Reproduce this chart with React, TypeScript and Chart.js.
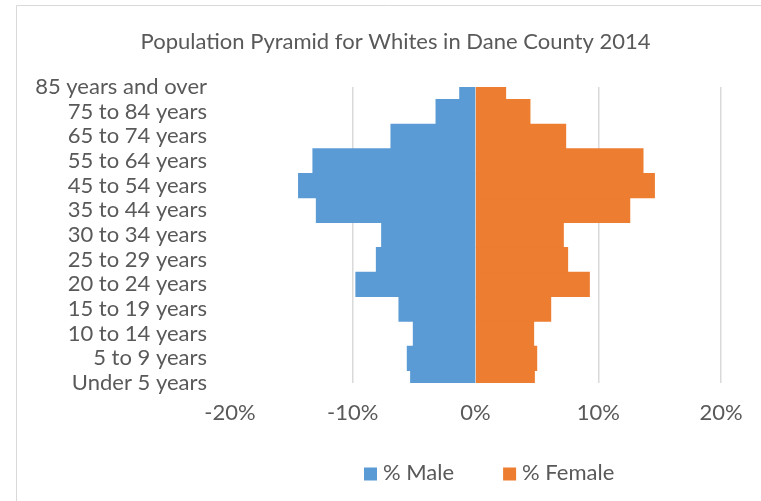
import React, { useEffect, useRef } from "react";
import { Chart, registerables } from "chart.js";

Chart.register(...registerables);

const ageGroups = [
  "Under 5 years",
  "5 to 9 years",
  "10 to 14 years",
  "15 to 19 years",
  "20 to 24 years",
  "25 to 29 years",
  "30 to 34 years",
  "35 to 44 years",
  "45 to 54 years",
  "55 to 64 years",
  "65 to 74 years",
  "75 to 84 years",
  "85 years and over",
];
const malePercent = [5.3, 5.57, 5.08, 6.25, 9.76, 8.09, 7.66, 12.98, 14.43, 13.26, 6.9, 3.23, 1.3];
const femalePercent = [4.81, 5.0, 4.75, 6.14, 9.29, 7.52, 7.17, 12.58, 14.59, 13.66, 7.36, 4.45, 2.47];
const xMin = -20;
const xMax = 20;
const xStep = 10;
const titleText = "Population Pyramid for Whites in Dane County 2014";
const maleLabel = "% Male";
const femaleLabel = "% Female";

const FONT = "Lato";
const TEXT = "#595959";
const FS = 22;

const framePlugin = {
  id: "frame",
  beforeDraw(chart: any) {
    const { ctx, width, height } = chart;
    ctx.save();
    ctx.fillStyle = "#ffffff";
    ctx.fillRect(0, 0, width, height);
    ctx.strokeStyle = "#d9d9d9";
    ctx.lineWidth = 1;
    ctx.beginPath();
    ctx.moveTo(16.5, height);
    ctx.lineTo(16.5, 5.5);
    ctx.lineTo(width, 5.5);
    ctx.stroke();
    ctx.restore();
  },
};

const legendPlugin = {
  id: "bottomLegend",
  afterDraw(chart: any) {
    const ctx = chart.ctx;
    ctx.save();
    ctx.font = `${FS}px ${FONT}`;
    ctx.textBaseline = "middle";
    ctx.textAlign = "left";
    let x = 364;
    const y = 474;
    chart.data.datasets.forEach((ds: any) => {
      ctx.fillStyle = ds.backgroundColor;
      ctx.fillRect(x, y - 6.5, 13, 13);
      x += 13 + 6;
      ctx.fillStyle = TEXT;
      ctx.fillText(ds.label, x, y - 1);
      x += ctx.measureText(ds.label).width + 49;
    });
    ctx.restore();
  },
};

export default function App() {
  const ref = useRef<HTMLCanvasElement | null>(null);
  useEffect(() => {
    if (!ref.current) return;
    const chart = new Chart(ref.current, {
      type: "bar",
      data: {
        labels: ageGroups,
        datasets: [
          {
            label: maleLabel,
            data: malePercent.map((v) => -v),
            backgroundColor: "#5B9BD5",
            barPercentage: 1,
            categoryPercentage: 1,
          },
          {
            label: femaleLabel,
            data: femalePercent,
            backgroundColor: "#ED7D31",
            barPercentage: 1,
            categoryPercentage: 1,
          },
        ],
      },
      options: {
        indexAxis: "y",
        responsive: false,
        animation: false,
        layout: { padding: { left: 0, right: -30, top: 0, bottom: 0 } },
        scales: {
          x: {
            type: "linear",
            min: xMin,
            max: xMax,
            stacked: true,
            ticks: {
              stepSize: xStep,
              callback: (v: any) => v + "%",
              color: TEXT,
              font: { family: FONT, size: FS },
              padding: 17,
            },
            grid: {
              drawTicks: false,
              color: (ctx: any) => (ctx.tick && ctx.tick.value === xMin ? "rgba(0,0,0,0)" : "#d9d9d9"),
              lineWidth: 1.5,
            },
            border: { display: false },
            afterFit: (s: any) => {
              s.height = 118;
            },
          },
          y: {
            type: "category",
            reverse: true,
            stacked: true,
            offset: false,
            grid: { display: false, drawTicks: false },
            border: { display: false },
            ticks: {
              color: TEXT,
              font: { family: FONT, size: FS },
              padding: 23,
              autoSkip: false,
            },
            afterFit: (s: any) => {
              s.width = 230;
            },
          },
          yRightSpace: {
            type: "linear",
            axis: "y",
            position: "right",
            display: true,
            grid: { display: false, drawTicks: false },
            border: { display: false },
            ticks: { display: false },
            afterFit: (s: any) => {
              s.width = 70;
            },
          },
        },
        plugins: {
          title: {
            display: true,
            text: titleText,
            color: TEXT,
            font: { family: FONT, size: FS, weight: "normal" },
            padding: { top: 29, bottom: 31.6 },
          },
          legend: { display: false },
          tooltip: { enabled: false },
        },
      },
      plugins: [framePlugin, legendPlugin],
    } as any);
    return () => chart.destroy();
  }, []);
  return (
    <div style={{ position: "absolute", left: 0, top: 0, width: 761, height: 501 }}>
      <canvas ref={ref} width={761} height={501} style={{ display: "block" }} />
    </div>
  );
}
